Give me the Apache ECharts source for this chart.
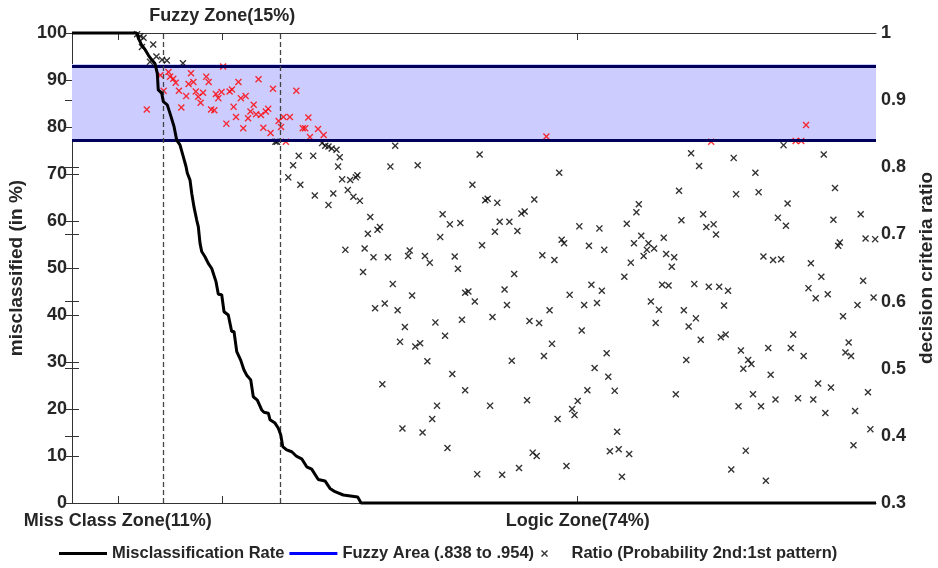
<!DOCTYPE html>
<html>
<head>
<meta charset="utf-8">
<script src="https://cdn.jsdelivr.net/npm/echarts@6/dist/echarts.min.js"></script>
<style>
  html, body { margin: 0; padding: 0; background: #fff; }
  #chart { width: 938px; height: 568px; }
</style>
</head>
<body>
<div id="chart"></div>
<script>
// x axis = share of samples (0-100), zones split at 11% and 26%
var zoneBounds = [11.3, 25.9];
var bottomTicks = [5.7, 62.9];
var topTicks = [18.7];
var allTicks = [5.7, 18.7, 62.9];
var zoneLabels = {'5.7': 'Miss Class Zone(11%)', '18.7': 'Fuzzy Zone(15%)', '62.9': 'Logic Zone(74%)'};
var fuzzyLow = 0.838, fuzzyHigh = 0.954;

// misclassification rate (left axis, %)
var missRate = [[0,100],[8.05,100],[8.25,98.9],[8.67,97.4],[9.08,96.5],[9.49,95.3],[9.91,94.3],[10.32,93.5],
  [10.61,91.4],[10.73,87.9],[11.16,87.2],[11.36,85.4],[11.85,84.7],[12.19,82.9],[12.69,80.1],[13.02,77.2],
  [13.43,76.2],[13.84,73.7],[14.18,71.6],[14.34,70.2],[14.68,68.7],[14.89,65.9],[15.17,63.0],[15.51,60.2],
  [15.71,58.8],[15.92,55.3],[16.13,53.5],[16.54,52.4],[16.95,51.0],[17.38,49.9],[17.57,49.6],[17.91,47.1],
  [18.20,44.4],[18.62,44.3],[18.91,40.7],[19.44,40.0],[19.86,36.5],[20.15,36.5],[20.49,32.2],[20.98,30.4],
  [21.39,28.3],[21.73,27.2],[22.23,26.2],[22.55,22.6],[23.05,21.9],[23.59,19.8],[23.88,19.3],[24.42,19.1],
  [24.63,17.7],[25.25,17.0],[25.66,15.9],[25.96,14.5],[26.21,12.0],[26.70,11.3],[27.33,10.9],[27.95,9.9],
  [28.57,9.4],[29.19,7.7],[29.81,7.2],[30.63,5.0],[31.47,4.7],[32.09,3.1],[32.71,2.4],[33.74,1.7],
  [35.53,1.3],[35.95,0],[100,0]];

// ratio 2nd:1st pattern (right axis), outside the fuzzy band
var ratioBlack = [[8.1,0.998],[8.5,0.995],[8.9,0.993],[10.1,0.983],[8.7,0.979],[9.7,0.957],[10.5,0.965],[11.2,0.960],[11.8,0.959],[13.8,0.955],
  [25.3,0.838],[25.5,0.838],[88.5,0.833],
  [31.1,0.836],[31.5,0.832],[31.9,0.831],[32.3,0.828],[32.9,0.826],[28.2,0.817],[30.0,0.817],[27.5,0.803],[33.1,0.801],[26.9,0.785],[28.4,0.774],[30.2,0.758],[32.5,0.761],[31.9,0.744],
  [33.3,0.815],[40.2,0.832],[39.6,0.801],[43.0,0.803],[33.6,0.782],[34.6,0.781],[35.3,0.785],[35.5,0.788],[34.3,0.766],[35.0,0.756],[35.8,0.750],[37.1,0.726],[36.8,0.701],[38.0,0.707],[38.3,0.711],
  [34.0,0.677],[36.4,0.679],[37.5,0.666],[39.3,0.666],[41.8,0.668],[42.0,0.676],[43.9,0.668],[44.5,0.658],[47.6,0.667],[48.0,0.649],[46.1,0.730],[47.0,0.715],[48.3,0.717],[45.8,0.696],
  [50.7,0.819],[49.8,0.774],[51.4,0.751],[51.7,0.753],[52.9,0.747],[57.5,0.752],[55.9,0.731],[56.3,0.734],[53.2,0.719],[54.4,0.719],[52.6,0.704],[55.4,0.705],[51.0,0.684],[60.6,0.792],
  [60.9,0.692],[61.2,0.687],[58.5,0.669],[60.0,0.662],[63.1,0.712],[65.6,0.709],[64.3,0.683],[66.2,0.677],
  [36.2,0.644],[39.9,0.626],[42.3,0.609],[37.7,0.590],[38.9,0.597],[40.5,0.587],[41.4,0.562],[40.8,0.540],[42.7,0.533],[43.3,0.538],[44.2,0.511],[45.2,0.569],[46.4,0.549],[49.3,0.615],
  [48.9,0.613],[50.1,0.600],[48.5,0.573],[47.3,0.492],[48.9,0.468],[38.6,0.477],[45.4,0.445],[44.8,0.425],[41.1,0.411],[43.6,0.405],[46.7,0.382],[50.4,0.343],[53.5,0.342],[55.6,0.352],
  [57.3,0.375],[57.8,0.370],[61.5,0.355],[55.0,0.641],[53.8,0.618],[54.1,0.595],[52.3,0.577],[56.9,0.571],[58.1,0.568],[59.4,0.587],[54.7,0.512],[59.7,0.537],[58.7,0.519],[52.0,0.445],
  [56.6,0.453],[60.4,0.425],[62.2,0.440],[62.5,0.431],[62.9,0.452],[64.1,0.468],[61.9,0.610],[64.6,0.625],[65.9,0.616],[63.7,0.595],[65.3,0.598],[63.4,0.557],[66.5,0.523],[65.0,0.501],
  [66.7,0.488],[66.9,0.377],
  [77.0,0.821],[78.0,0.802],[82.3,0.814],[85.0,0.792],[93.5,0.819],[75.5,0.765],[82.6,0.760],[85.4,0.763],[89.0,0.746],[94.9,0.769],[70.5,0.745],[70.2,0.733],[69.0,0.716],[75.8,0.721],
  [78.5,0.730],[78.9,0.711],[79.8,0.715],[80.1,0.700],[87.8,0.725],[88.8,0.713],[94.7,0.722],[98.1,0.730],[70.8,0.698],[69.9,0.687],[71.7,0.687],[72.4,0.679],[71.5,0.677],[71.1,0.668],
  [73.6,0.695],[73.9,0.671],[74.9,0.666],[69.5,0.658],[74.6,0.652],[86.0,0.667],[87.2,0.662],[88.2,0.663],[91.9,0.657],[95.5,0.688],[95.3,0.683],[98.7,0.694],[99.9,0.693],
  [68.7,0.637],[73.4,0.625],[74.2,0.624],[77.4,0.626],[79.2,0.622],[80.5,0.622],[81.6,0.616],[72.0,0.600],[73.0,0.588],[72.6,0.568],[76.1,0.587],[77.6,0.575],[76.7,0.563],[78.2,0.543],
  [81.1,0.594],[80.7,0.547],[81.3,0.551],[76.4,0.513],[75.1,0.462],[83.2,0.527],[84.1,0.513],[83.5,0.500],[84.5,0.507],[86.6,0.531],[86.9,0.491],[89.7,0.551],[89.4,0.531],[91.0,0.519],
  [84.7,0.462],[82.9,0.444],[85.7,0.444],[87.5,0.454],[90.3,0.456],[92.2,0.454],[92.8,0.478],[94.4,0.472],[93.7,0.434],[93.2,0.637],[91.6,0.620],[92.5,0.605],[94.0,0.611],[98.4,0.631],
  [99.7,0.606],[97.7,0.595],[95.9,0.578],[96.6,0.539],[96.2,0.524],[96.9,0.519],[99.0,0.465],[97.4,0.437],[99.3,0.410],[97.2,0.386],[83.8,0.378],[82.0,0.350],[86.3,0.333],
  [67.5,0.467],[67.8,0.406],[68.0,0.380],[69.3,0.373],[68.4,0.339]];

// ratios falling inside the fuzzy band
var ratioRed = [[9.3,0.886],[11.0,0.937],[12.0,0.942],[12.2,0.935],[12.6,0.932],[12.9,0.926],[11.4,0.914],[13.3,0.914],[14.2,0.906],[13.6,0.889],
  [14.8,0.940],[14.5,0.924],[15.1,0.927],[15.4,0.913],[15.7,0.905],[16.0,0.896],[16.3,0.911],[16.7,0.935],[17.0,0.927],[17.3,0.886],
  [17.7,0.885],[17.9,0.909],[18.2,0.903],[18.6,0.912],[18.8,0.950],[19.6,0.913],[19.9,0.916],[19.2,0.865],[20.1,0.890],[20.4,0.875],
  [20.7,0.927],[21.0,0.903],[21.3,0.858],[21.6,0.906],[21.9,0.873],[22.2,0.883],[22.6,0.893],[22.9,0.879],[23.2,0.931],[23.5,0.878],
  [23.8,0.859],[24.1,0.883],[24.4,0.887],[24.7,0.851],[25.0,0.917],[25.7,0.869],[26.0,0.860],[26.3,0.875],[26.6,0.838],[27.1,0.875],
  [27.9,0.914],[28.7,0.858],[29.0,0.858],[29.4,0.874],[29.6,0.845],[30.6,0.857],[31.3,0.848],
  [59.0,0.846],[79.5,0.838],[90.0,0.839],[90.7,0.839],[91.3,0.863]];

// axis ranges; each side also shows the other side's ticks (overlaid axes)
var leftMin = 0, leftMax = 100, leftStep = 10;
var rightMin = 0.3, rightMax = 1, rightStep = 0.1;
var leftTickVals = [], rightTickVals = [];
for (var i = 0; i <= 10; i++) {
  leftTickVals.push(leftMin + i * leftStep);
  rightTickVals.push(rightMin + (rightMax - rightMin) * i * leftStep / (leftMax - leftMin));
}
for (var j = 0; j <= 7; j++) {
  var r = rightMin + j * rightStep;
  rightTickVals.push(r);
  leftTickVals.push(leftMin + (leftMax - leftMin) * (r - rightMin) / (rightMax - rightMin));
}

var font = 'Liberation Sans, Arial, sans-serif';
var txt = '#262626';
var axisCol = '#333';
var crossPath = 'path://M1.4,0L5,3.6L8.6,0L10,1.4L6.4,5L10,8.6L8.6,10L5,6.4L1.4,10L0,8.6L3.6,5L0,1.4Z';
var barIcon = 'path://M0,0H48V3H0Z';
var legendText = {fontSize: 16.5, fontWeight: 'bold', color: txt, fontFamily: font};

var chart = echarts.init(document.getElementById('chart'));

var option = {
  animation: false,
  textStyle: {fontFamily: font},
  grid: {left: 72, right: 62, top: 33, bottom: 65, outerBoundsMode: 'none', containLabel: false},
  legend: [
    {
      data: [
        {name: 'Misclassification Rate', icon: barIcon},
        {name: 'Fuzzy Area (.838 to .954)', icon: barIcon}
      ],
      left: 54, top: 540, itemWidth: 48, itemHeight: 8, itemGap: 5,
      textStyle: legendText
    },
    {
      data: [{name: 'Ratio (Probability 2nd:1st pattern)', icon: crossPath}],
      left: 536, top: 540, itemWidth: 44, itemHeight: 7, itemGap: 5,
      textStyle: legendText
    }
  ],
  xAxis: [
    {
      type: 'value', position: 'bottom', min: 0, max: 100,
      axisLine: {show: true, onZero: false, lineStyle: {color: axisCol}},
      axisTick: {show: true, inside: true, length: 7, customValues: allTicks, lineStyle: {color: axisCol}},
      axisLabel: {
        customValues: bottomTicks, margin: 9, fontSize: 18, fontWeight: 'bold', color: txt,
        formatter: function (v) { return zoneLabels[String(v)] || ''; }
      },
      splitLine: {show: false}
    },
    {
      type: 'value', position: 'top', min: 0, max: 100,
      axisLine: {show: true, onZero: false, lineStyle: {color: axisCol}},
      axisTick: {show: true, inside: true, length: 7, customValues: allTicks, lineStyle: {color: axisCol}},
      axisLabel: {
        customValues: topTicks, margin: 8, fontSize: 18, fontWeight: 'bold', color: txt,
        formatter: function (v) { return zoneLabels[String(v)] || ''; }
      },
      splitLine: {show: false}
    }
  ],
  yAxis: [
    {
      type: 'value', position: 'left', min: leftMin, max: leftMax, interval: leftStep,
      name: 'misclassified (in %)', nameLocation: 'middle', nameGap: 45, nameRotate: 90,
      nameTextStyle: {fontSize: 19, fontWeight: 'bold', color: txt, fontFamily: font},
      axisLine: {show: true, lineStyle: {color: axisCol}},
      axisTick: {show: true, inside: true, length: 7, customValues: leftTickVals, lineStyle: {color: axisCol}},
      axisLabel: {fontSize: 18, fontWeight: 'bold', color: txt, margin: 5},
      splitLine: {show: false}
    },
    {
      type: 'value', position: 'right', min: rightMin, max: rightMax, interval: rightStep,
      name: 'decision criteria ratio', nameLocation: 'middle', nameGap: 39, nameRotate: 90,
      nameTextStyle: {fontSize: 19, fontWeight: 'bold', color: txt, fontFamily: font},
      axisLine: {show: true, lineStyle: {color: axisCol}},
      axisTick: {show: true, inside: true, length: 7, customValues: rightTickVals, lineStyle: {color: axisCol}},
      axisLabel: {fontSize: 18, fontWeight: 'bold', color: txt, margin: 5,
        formatter: function (v) { return String(+v.toFixed(1)); }},
      splitLine: {show: false}
    }
  ],
  series: [
    {
      name: 'Fuzzy Area (.838 to .954)', type: 'line', yAxisIndex: 1, data: [],
      symbol: 'none', z: 1,
      lineStyle: {color: '#0000ff', width: 3},
      itemStyle: {color: '#0000ff'},
      markArea: {
        silent: true,
        itemStyle: {color: '#ccccff'},
        data: [[{yAxis: fuzzyLow}, {yAxis: fuzzyHigh}]]
      },
      markLine: {
        silent: true, symbol: ['none', 'none'], label: {show: false},
        lineStyle: {color: '#00005a', width: 3, type: 'solid'},
        data: [{yAxis: fuzzyLow}, {yAxis: fuzzyHigh}]
      }
    },
    {
      name: 'Ratio (Probability 2nd:1st pattern)', type: 'scatter', yAxisIndex: 1,
      data: ratioBlack, symbol: crossPath, symbolSize: 7, z: 3,
      itemStyle: {color: '#000'}
    },
    {
      name: 'Fuzzy ratio', type: 'scatter', yAxisIndex: 1,
      data: ratioRed, symbol: crossPath, symbolSize: 7, z: 3,
      itemStyle: {color: '#ff0000'}
    },
    {
      name: 'Misclassification Rate', type: 'line', yAxisIndex: 0, data: missRate,
      symbol: 'none', clip: false, z: 5,
      lineStyle: {color: '#000', width: 3},
      itemStyle: {color: '#000'},
      markLine: {
        silent: true, symbol: ['none', 'none'], label: {show: false},
        lineStyle: {color: '#444', width: 1.3, type: [5, 3]},
        data: [{xAxis: zoneBounds[0]}, {xAxis: zoneBounds[1]}]
      }
    }
  ]
};

chart.setOption(option);
</script>
</body>
</html>
